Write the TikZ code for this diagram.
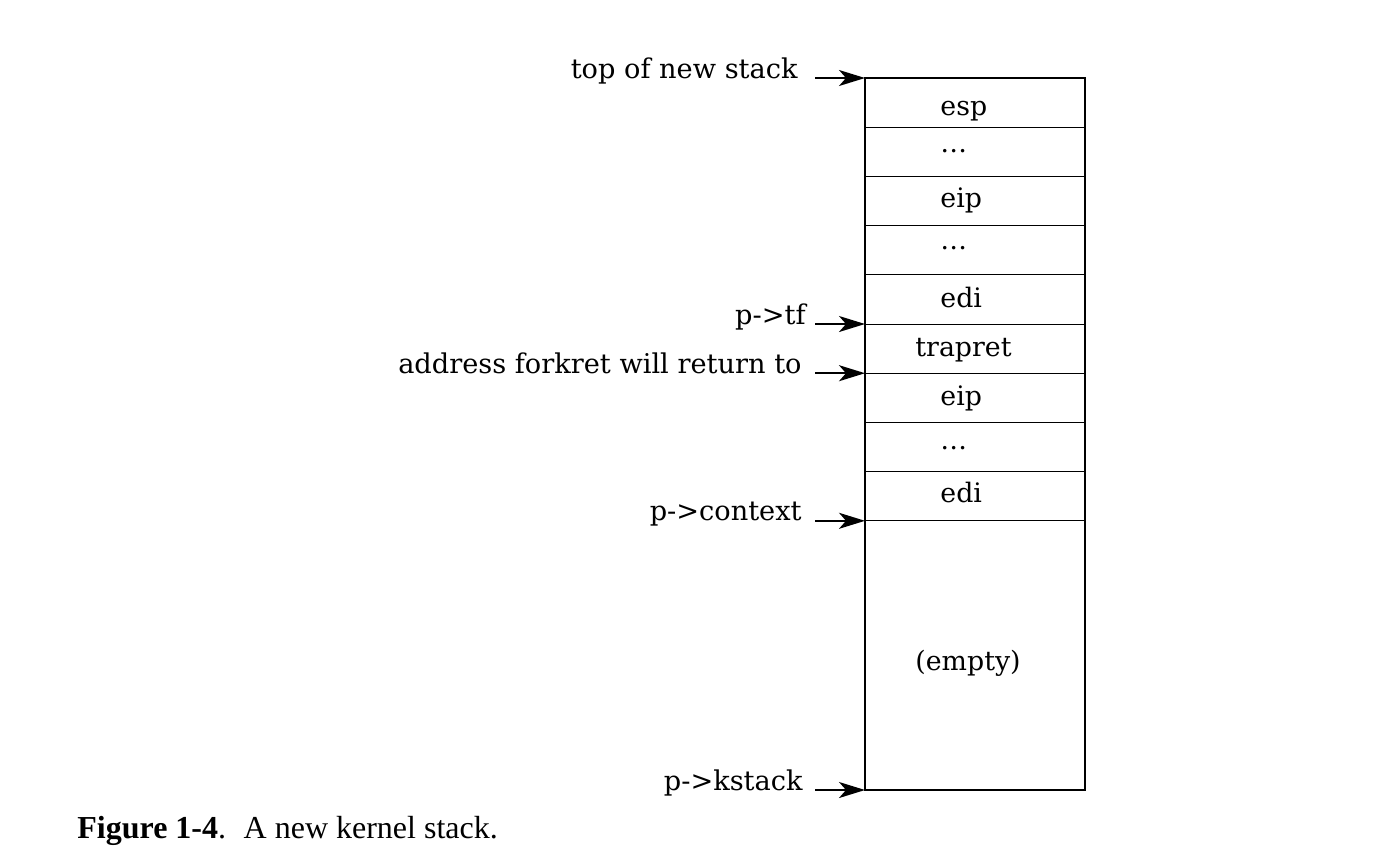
\documentclass[tikz,border=0pt]{standalone}
\usepackage{fontspec}
\setmainfont{DejaVu Serif}
\newfontfamily\capfont{Liberation Serif}
\usetikzlibrary{arrows.meta,positioning}

\tikzset{
  cell/.style={anchor=base west, inner sep=0pt, font=\fontsize{13.4}{16}\selectfont},
  lbl/.style={anchor=base east, inner sep=0pt, font=\fontsize{13.6}{16}\selectfont},
  ptr/.style={-{Stealth[length=13pt,width=8pt,inset=3.5pt]}, line width=1pt},
}

\begin{document}
\begin{tikzpicture}[x=0.5pt,y=-0.5pt]
  \useasboundingbox (0,0) rectangle (1374,858);
  % the stack frame and its slots
  \draw[line width=1pt] (865,78) rectangle (1085,790);
  \foreach \i in {0,...,9}
    \coordinate (b\i) at (865,78+\i*49.2);
  \coordinate (b10) at (865,790);
  \foreach \i in {1,...,9}
    \draw[line width=0.5pt] (b\i) -- ++(220,0);
  % slot contents
  \foreach \n/\t/\x/\y in {esp/esp/940/115, dotsa/{\ldots}/940/152,
      eipa/eip/940/207, dotsb/{\ldots}/940/249, edia/edi/940/307,
      trapret/trapret/915/356, eipb/eip/940/405, dotsc/{\ldots}/940/449,
      edib/edi/940/502, empty/(empty)/915/670}
    \node[cell] (\n) at (\x,\y) {\t};
  % pointers into the stack
  \node[lbl] (ltop) at ([xshift=-33.5pt]b0) {top of new stack};
  \node[lbl] (ltf) at ([xshift=-29.5pt]b5) {p->tf};
  \node[lbl] (lret) at ([xshift=-31.5pt]b6) {address forkret will return to};
  \node[lbl] (lctx) at ([xshift=-31.5pt]b9) {p->context};
  \node[lbl] (lks) at ([xshift=-31pt]b10) {p->kstack};
  \draw[ptr] ([xshift=8.5pt]ltop.base east) -- (b0);
  \draw[ptr] ([xshift=4.5pt]ltf.base east) -- (b5);
  \draw[ptr] ([xshift=6.5pt]lret.base east) -- (b6);
  \draw[ptr] ([xshift=6.5pt]lctx.base east) -- (b9);
  \draw[ptr] ([xshift=6pt]lks.base east) -- (b10);
  % caption
  \node[anchor=base west, inner sep=0pt, font=\capfont\fontsize{16}{18}\selectfont]
    (caption) at (77,838) {\textbf{Figure 1-4}.\hspace{0.55em}A new kernel stack.};
\end{tikzpicture}
\end{document}
